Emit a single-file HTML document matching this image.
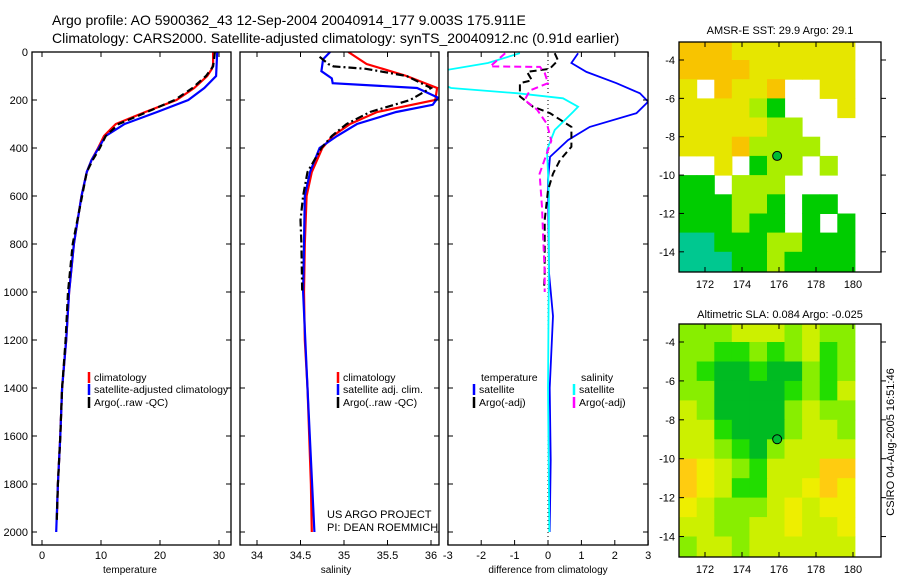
<!DOCTYPE html>
<html><head><meta charset="utf-8"><style>
body{margin:0;background:#fff}
svg{display:block;font-family:"Liberation Sans",sans-serif}
</style></head><body>
<svg id="s" width="900" height="580" viewBox="0 0 900 580">
<text x="52" y="25" font-size="14">Argo profile: AO 5900362_43 12-Sep-2004 20040914_177 9.003S 175.911E</text>
<text x="52" y="43" font-size="14">Climatology: CARS2000. Satellite-adjusted climatology: synTS_20040912.nc (0.91d earlier)</text>
<text x="780" y="34" font-size="11" text-anchor="middle">AMSR-E SST: 29.9 Argo: 29.1</text>
<text x="780" y="318" font-size="11" text-anchor="middle">Altimetric SLA: 0.084 Argo: -0.025</text>
<text transform="translate(894,442) rotate(-90)" font-size="11" text-anchor="middle">CSIRO 04-Aug-2005 16:51:46</text>
<text x="327" y="518" font-size="11">US ARGO PROJECT</text>
<text x="327" y="531" font-size="11">PI: DEAN ROEMMICH</text>
</svg>
<script>
// ---- data ----
const depthTicks=[0,200,400,600,800,1000,1200,1400,1600,1800,2000];
const tempTicks=[0,10,20,30];
const salTicks=[34,34.5,35,35.5,36];
const diffTicks=[-3,-2,-1,0,1,2,3];
const tClimD=[0,50,70,100,150,200,250,300,350,400,450,500,600,800,1000,1200,1400,1600,1800,1950];
const tClimV=[29.0,29.0,28.8,28.0,25.8,22.8,17.5,12.5,10.5,9.5,8.4,7.6,6.7,5.4,4.6,4.1,3.4,3.1,2.7,2.5];
const tSatD=[0,100,150,200,250,300,350,400,450,500,600,800,1000,1200,1400,1600,1800,2000];
const tSatV=[29.7,29.5,27.5,24.8,19.5,14.0,10.8,9.6,8.4,7.6,6.7,5.4,4.6,4.1,3.4,3.1,2.7,2.4];
const tArgoD=[0,60,100,150,200,250,300,350,400,450,500,600,800,1000,1200,1400,1600,1800,1950];
const tArgoV=[29.3,29.0,27.8,25.5,22.5,17.8,13.0,10.8,9.8,8.6,7.6,6.8,5.2,4.4,4.0,3.4,3.1,2.7,2.5];
const sClimD=[0,50,100,150,200,250,300,350,400,500,600,800,1000,1200,1400,1600,1800,2000];
const sClimV=[35.05,35.26,35.72,36.07,36.05,35.38,35.07,34.87,34.75,34.63,34.57,34.55,34.54,34.55,34.58,34.6,34.62,34.63];
const sSatD=[0,30,80,110,130,150,190,220,250,300,350,400,500,600,800,1000,1400,2000];
const sSatV=[34.84,34.76,34.74,34.86,34.87,35.84,36.08,36.02,35.6,35.15,34.92,34.72,34.61,34.55,34.54,34.53,34.58,34.66];
const sArgoD=[20,50,60,70,100,150,200,250,300,350,400,500,600,700,800,1000];
const sArgoV=[34.72,34.82,34.88,35.25,35.72,36.0,35.76,35.3,35.03,34.86,34.74,34.58,34.53,34.5,34.51,34.52];
const dTSatD=[5,46,83,130,172,207,255,312,367,437,533,920,1100,1400,1700,2000];
const dTSatV=[0.9,0.7,1.15,2.05,2.75,3.0,2.65,1.25,0.6,0.06,0.0,0.03,0.15,0.05,0.08,0.05];
const dSSatD=[5,46,74,110,150,172,193,228,250,325,408,600,1000,1400,2000];
const dSSatV=[-0.84,-1.8,-3.0,-3.6,-2.9,-0.9,0.45,0.9,0.75,0.2,-0.03,0.03,0.02,0.0,0.04];
const dTArgoD=[5,35,70,83,118,130,185,228,255,312,395,450,507,576,700,922,990];
const dTArgoV=[0.2,0.3,0.05,-0.63,-0.48,-0.84,-0.84,-0.45,0.06,0.7,0.7,0.36,0.15,0.0,-0.1,-0.1,-0.12];
const dSArgoD=[5,60,62,87,130,160,200,240,300,370,507,646,785,920,1000];
const dSArgoV=[-1.28,-1.73,-0.24,-0.1,0.0,-0.54,-0.7,-0.33,-0.03,0.1,-0.25,-0.18,-0.14,-0.1,-0.1];
const lonTicks=[172,174,176,178,180];
const latTicks=[-4,-6,-8,-10,-12,-14];
const sstGrid=[
[4,4,4,3,3,3,3,3,3,3],[4,4,4,4,3,3,3,3,3,3],[3,-1,4,3,3,4,-1,-1,3,3],[3,3,3,3,2,1,-1,-1,-1,3],
[3,3,3,3,3,2,2,-1,-1,-1],[3,3,3,4,2,2,2,2,-1,-1],[-1,-1,3,-1,1,2,2,-1,2,-1],[1,1,-1,2,2,2,-1,-1,-1,-1],
[1,1,1,2,2,1,-1,1,1,-1],[1,1,1,2,1,1,-1,1,-1,1],[0.5,0.5,1,1,1,2,2,1,1,1],[0,0,0.5,1,1,2,1,1,1,1]];
const slaGrid=[
[2,2,2,3,3,3,2,3,2,2],[2,2,1,1,2,1,2,3,1,2],[2,1,0,0,1,0,0,2,1,2],[2,2,0,0,0,0,1,2,1,3],
[3,2,0,0,0,0,2,3,2,2],[3,3,1,0,0,0,2,3,3,2],[3,3,2,1,0,2,3,3,3,3],[5,4,3,2,1,3,3,3,5,5],
[5,4,3,1,1,3,3,4,5,4],[4,3,2,2,2,3,4,3,4,4],[3,3,2,2,3,3,4,3,3,4],[2,3,3,2,3,3,3,3,3,3]];
const argoLon=175.9, argoLat=-9.0;

// ---- drawing ----
const S=document.getElementById('s');const NS='http://www.w3.org/2000/svg';
function mk(t,a,p){const e=document.createElementNS(NS,t);for(const k in a)e.setAttribute(k,a[k]);(p||S).appendChild(e);return e;}
const yD=d=>52+d*0.24;
const panels=[{x0:32,x1:231,f:v=>42+(v)*5.9,ticks:tempTicks,lab:'temperature',cx:130,n:'temperature-panel'},
{x0:240,x1:439,f:v=>257+(v-34)*87,ticks:salTicks,lab:'salinity',cx:336,n:'salinity-panel'},
{x0:448,x1:648,f:v=>548+v*33.4,ticks:diffTicks,lab:'difference from climatology',cx:548,n:'difference-panel'}];
panels.forEach((p,pi)=>{
 const g=mk('g',{});
 const cid='c'+pi;const cp=mk('clipPath',{id:cid},g);mk('rect',{x:p.x0,y:52,width:p.x1-p.x0,height:493},cp);p.g=mk('g',{'clip-path':'url(#'+cid+')'},g);
 const fr=mk('rect',{x:p.x0,y:52,width:p.x1-p.x0,height:493,fill:'none',stroke:'#000','stroke-width':1.3},g);
 
 p.ticks.forEach(t=>{const x=p.f(t);mk('line',{x1:x,x2:x,y1:545,y2:540,stroke:'#000'},g);mk('line',{x1:x,x2:x,y1:52,y2:57,stroke:'#000'},g);
  const tx=mk('text',{x:x,y:559,'font-size':11,'text-anchor':'middle'},g);tx.textContent=t;
  });
 depthTicks.forEach(d=>{const y=yD(d);mk('line',{x1:p.x0,x2:p.x0+5,y1:y,y2:y,stroke:'#000'},g);mk('line',{x1:p.x1,x2:p.x1-5,y1:y,y2:y,stroke:'#000'},g);
  if(pi==0){const tx=mk('text',{x:28,y:y+4,'font-size':11,'text-anchor':'end'},g);tx.textContent=d;
  }});
 const xl=mk('text',{x:p.cx,y:573,'font-size':10,'text-anchor':'middle'},g);xl.textContent=p.lab;
 
});
function line(p,D,V,col,w,dash,name){const pts=D.map((d,i)=>p.f(V[i]).toFixed(1)+','+yD(d).toFixed(1)).join(' ');
 const e=mk('polyline',{points:pts,fill:'none',stroke:col,'stroke-width':w,'stroke-dasharray':dash||'none'},p.g);
 }
const [P1,P2,P3]=panels;
line(P1,tClimD,tClimV,'#f00',2.2,null,'temp-climatology-line');
line(P1,tSatD,tSatV,'#00f',2.2,null,'temp-satellite-line');
line(P1,tArgoD,tArgoV,'#000',2.2,'7,4','temp-argo-line');
line(P2,sClimD,sClimV,'#f00',2.2,null,'sal-climatology-line');
line(P2,sSatD,sSatV,'#00f',2.2,null,'sal-satellite-line');
line(P2,sArgoD,sArgoV,'#000',2.2,'8,3,2,3','sal-argo-line');
const z=mk('line',{x1:P3.f(0),x2:P3.f(0),y1:52,y2:545,stroke:'#000','stroke-dasharray':'1,3'},P3.g);

line(P3,dTSatD,dTSatV,'#00f',1.8,null,'diff-temp-satellite-line');
line(P3,dSSatD,dSSatV,'#0ff',1.8,null,'diff-sal-satellite-line');
line(P3,dTArgoD,dTArgoV,'#000',2,'7,4','diff-temp-argo-line');
line(P3,dSArgoD,dSArgoV,'#f0f',2,'7,4','diff-sal-argo-line');
function leg(x,y,col,txt){const m=mk('line',{x1:x,x2:x,y1:y-9,y2:y+2,stroke:col,'stroke-width':2.5});
 
 if(txt){const t=mk('text',{x:x+5,y:y,'font-size':10.5});t.textContent=txt;}}
leg(89,381,'#f00','climatology');leg(89,393,'#00f','satellite-adjusted climatology');leg(89,406,'#000','Argo(..raw -QC)');
leg(338,381,'#f00','climatology');leg(338,393,'#00f','satellite adj. clim.');leg(338,406,'#000','Argo(..raw -QC)');
let t=mk('text',{x:481,y:381,'font-size':10.5});t.textContent='temperature';
t=mk('text',{x:581,y:381,'font-size':10.5});t.textContent='salinity';
leg(474,393,'#00f','satellite');leg(474,406,'#000','Argo(-adj)');leg(574,393,'#0ff','satellite');leg(574,406,'#f0f','Argo(-adj)');
// maps
const sstCols=['#00c890','#00cc00','#aaee00','#e6e600','#f8c400'];
const slaCols=['#00bb22','#22dd00','#88ee00','#ccf000','#eeee00','#ffcc10'];
function map(top,bot,grid,cols,name){
 const g=mk('g',{});
 const L=679,R=881;const lon=v=>705+(v-172)*18.5;
 const latY=v=>top+18+(-4-v)*((bot-top-19)/11);
 const lonW=(180.1-170.6)/10;
 grid.forEach((row,r)=>row.forEach((v,c)=>{if(v<0)return;
  const x=lon(170.6+c*lonW),x2=lon(170.6+(c+1)*lonW),y=latY(-3-r),y2=latY(-4-r);
  const cc=cols[Math.floor(v)];
  const e=mk('rect',{x:x.toFixed(1),y:Math.max(top,y).toFixed(1),width:(x2-x+0.5).toFixed(1),height:(y2-Math.max(top,y)+0.5).toFixed(1),fill:cc},g);
  }));
 const fr=mk('rect',{x:L,y:top,width:R-L,height:bot-top,fill:'none',stroke:'#000','stroke-width':1.3},g);
 
 lonTicks.forEach(v=>{const x=lon(v);mk('line',{x1:x,x2:x,y1:bot,y2:bot-5,stroke:'#000'},g);mk('line',{x1:x,x2:x,y1:top,y2:top+5,stroke:'#000'},g);
  const tx=mk('text',{x:x,y:bot+16,'font-size':11,'text-anchor':'middle'},g);tx.textContent=v;});
 latTicks.forEach(v=>{const y=latY(v);mk('line',{x1:L,x2:L+5,y1:y,y2:y,stroke:'#000'},g);mk('line',{x1:R,x2:R+5,y1:y,y2:y,stroke:'#000'},g);
  const tx=mk('text',{x:675,y:y+4,'font-size':11,'text-anchor':'end'},g);tx.textContent=v;});
 const c=mk('circle',{cx:lon(argoLon),cy:latY(argoLat),r:4.5,fill:'#00bb33',stroke:'#000','stroke-width':1},g);
 
}
map(42,272,sstGrid,sstCols,'sst-map');
map(324,557,slaGrid,slaCols,'sla-map');
</script>
</body></html>
